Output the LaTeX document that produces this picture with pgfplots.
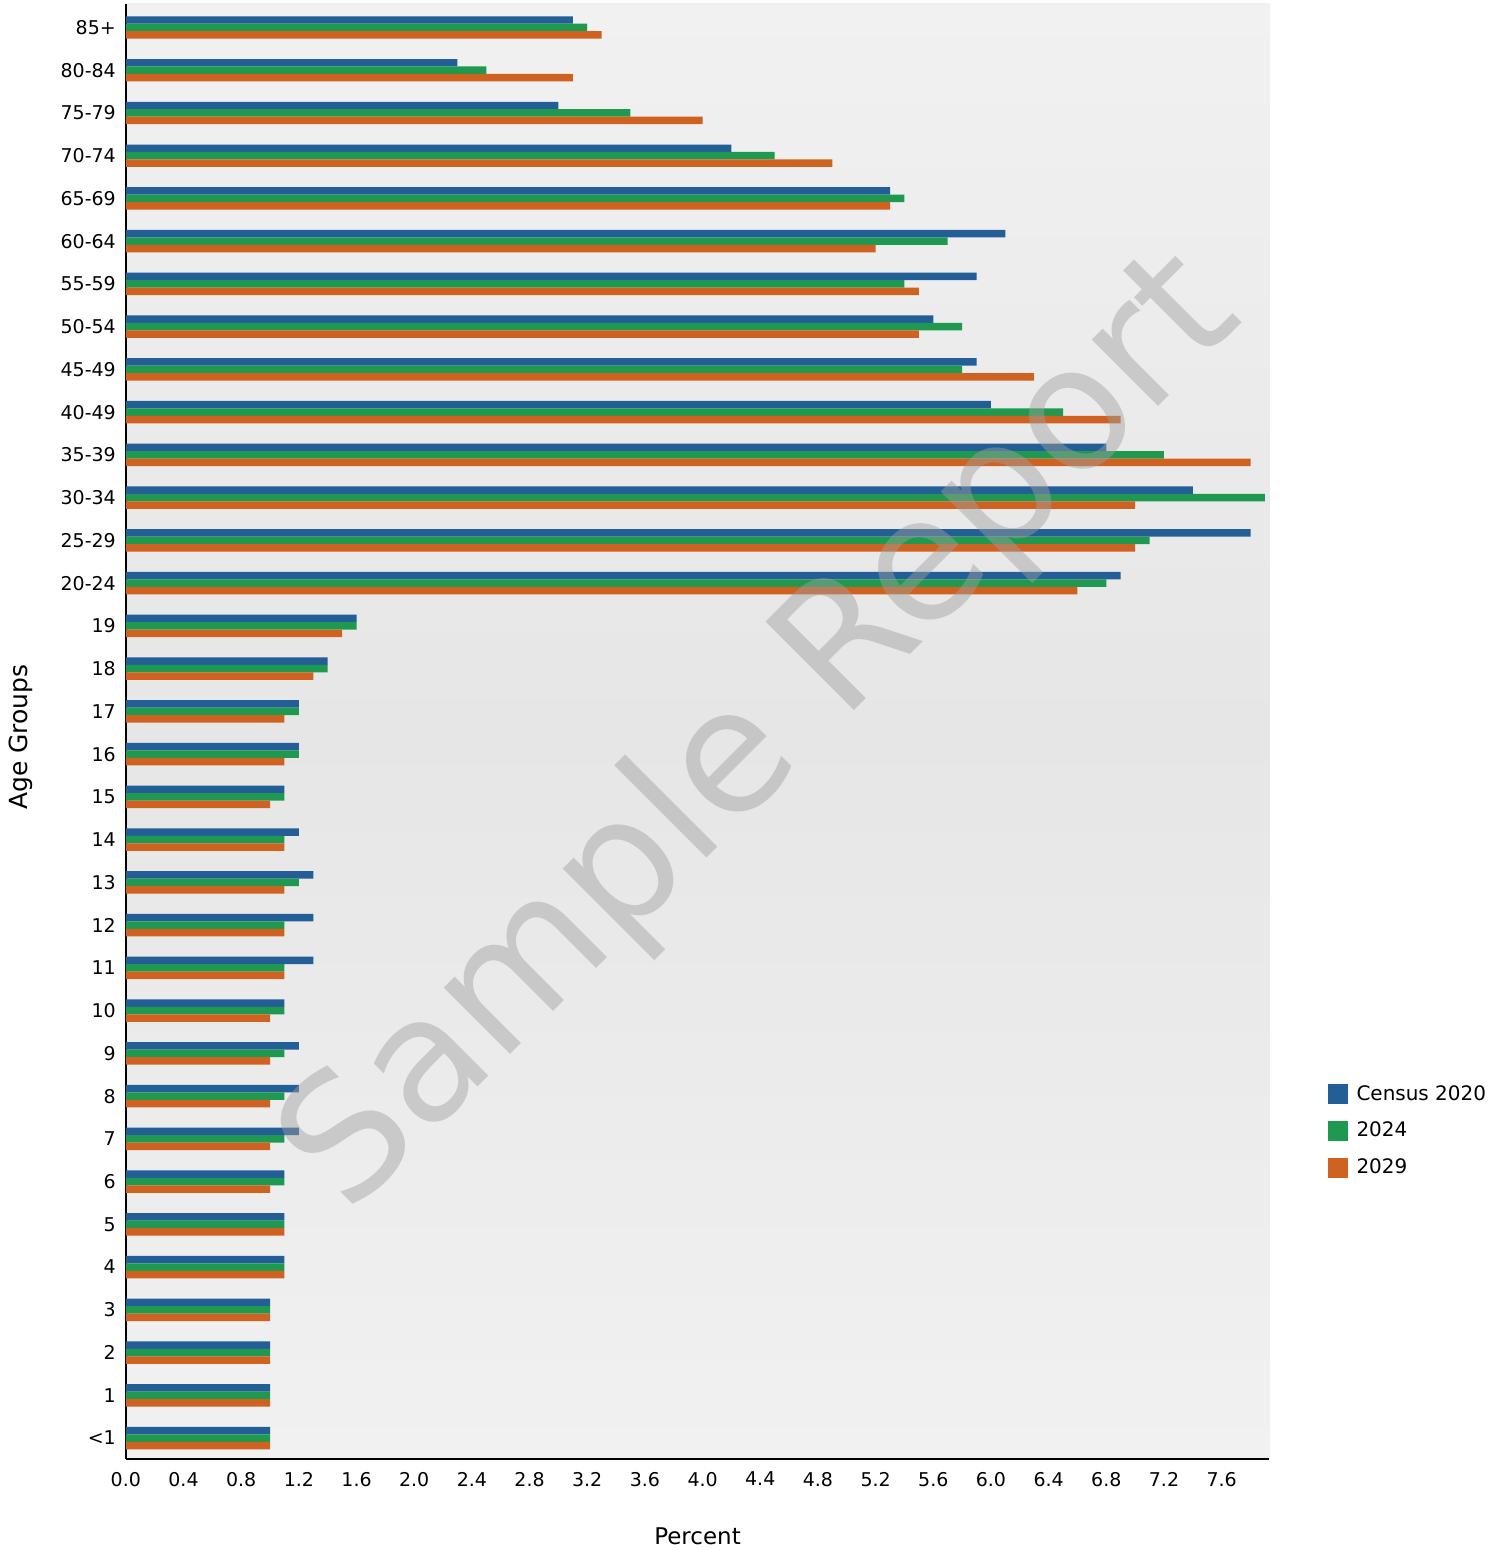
\documentclass[border=0pt]{standalone}
\usepackage{pgfplots}
\pgfplotsset{compat=1.18}
\usepackage{pgfplotstable}
\usepackage{fontspec}
\setmainfont{DejaVu Sans}
\definecolor{cBlue}{RGB}{35,94,150}
\definecolor{cGreen}{RGB}{31,153,80}
\definecolor{cOrange}{RGB}{207,98,32}
\definecolor{bgTop}{RGB}{241,241,241}
\definecolor{bgMid}{RGB}{230,230,230}
\definecolor{wm}{RGB}{160,160,160}

\pgfplotstableread{
idx census y2024 y2029
0  1.0 1.0 1.0
1  1.0 1.0 1.0
2  1.0 1.0 1.0
3  1.0 1.0 1.0
4  1.1 1.1 1.1
5  1.1 1.1 1.1
6  1.1 1.1 1.0
7  1.2 1.1 1.0
8  1.2 1.1 1.0
9  1.2 1.1 1.0
10 1.1 1.1 1.0
11 1.3 1.1 1.1
12 1.3 1.1 1.1
13 1.3 1.2 1.1
14 1.2 1.1 1.1
15 1.1 1.1 1.0
16 1.2 1.2 1.1
17 1.2 1.2 1.1
18 1.4 1.4 1.3
19 1.6 1.6 1.5
20 6.9 6.8 6.6
21 7.8 7.1 7.0
22 7.4 7.9 7.0
23 6.8 7.2 7.8
24 6.0 6.5 6.9
25 5.9 5.8 6.3
26 5.6 5.8 5.5
27 5.9 5.4 5.5
28 6.1 5.7 5.2
29 5.3 5.4 5.3
30 4.2 4.5 4.9
31 3.0 3.5 4.0
32 2.3 2.5 3.1
33 3.1 3.2 3.3
}\agedata

\begin{document}
\begin{tikzpicture}
\begin{axis}[
  scale only axis,
  width=572.5pt, height=728.5pt,
  xmin=0, xmax=7.93,
  ymin=-0.49, ymax=33.55,
  xbar, bar width=0.175,
  clip=false,
  axis background/.style={shade, top color=bgTop, bottom color=bgTop, middle color=bgMid},
  axis x line*=bottom, axis y line*=left,
  axis line style={black, line width=1pt, -},
  major tick length=0pt,
  xtick={0,0.4,0.8,1.2,1.6,2.0,2.4,2.8,3.2,3.6,4.0,4.4,4.8,5.2,5.6,6.0,6.4,6.8,7.2,7.6},
  xticklabel style={/pgf/number format/fixed, /pgf/number format/fixed zerofill, /pgf/number format/precision=1, font=\fontsize{9.5}{11}\selectfont, yshift=-3pt},
  /pgf/number format/assume math mode=true,
  ytick={0,...,33},
  yticklabels={<1,1,2,3,4,5,6,7,8,9,10,11,12,13,14,15,16,17,18,19,20-24,25-29,30-34,35-39,40-49,45-49,50-54,55-59,60-64,65-69,70-74,75-79,80-84,85+},
  yticklabel style={font=\fontsize{9.5}{11}\selectfont, xshift=-1.5pt},
  xlabel={Percent},
  xlabel style={at={(axis description cs:0.5,-0.0528)}, anchor=center, font=\fontsize{11.5}{13}\selectfont},
  ylabel={Age Groups},
  ylabel style={at={(axis description cs:-0.0917,0.496)}, anchor=center, font=\fontsize{12.5}{14}\selectfont},
  legend style={at={(rel axis cs:1,0.2255)}, anchor=west, xshift=29pt, draw=none, fill=none, inner sep=0pt,
    font=\fontsize{10}{12}\selectfont, row sep=5.5pt, cells={anchor=west}},
  legend image code/.code={\fill[#1] (0pt,-5pt) rectangle (10pt,5pt); \path (12.5pt,0pt);},
]
\addplot[fill=cBlue, draw=none, bar shift=0.175] table[x=census, y=idx] {\agedata};
\addplot[fill=cGreen, draw=none, bar shift=0] table[x=y2024, y=idx] {\agedata};
\addplot[fill=cOrange, draw=none, bar shift=-0.175] table[x=y2029, y=idx] {\agedata};
\legend{Census 2020, 2024, 2029}
\node[rotate=45, text=wm, opacity=0.45, font=\fontsize{86}{96}\selectfont, anchor=center] at (axis cs:4.42,16.45) {Sample Report};
\path (rel axis cs:0,0) ++(-63pt,-45pt) rectangle ++(752pt,775.5pt);
\end{axis}
\end{tikzpicture}
\end{document}
